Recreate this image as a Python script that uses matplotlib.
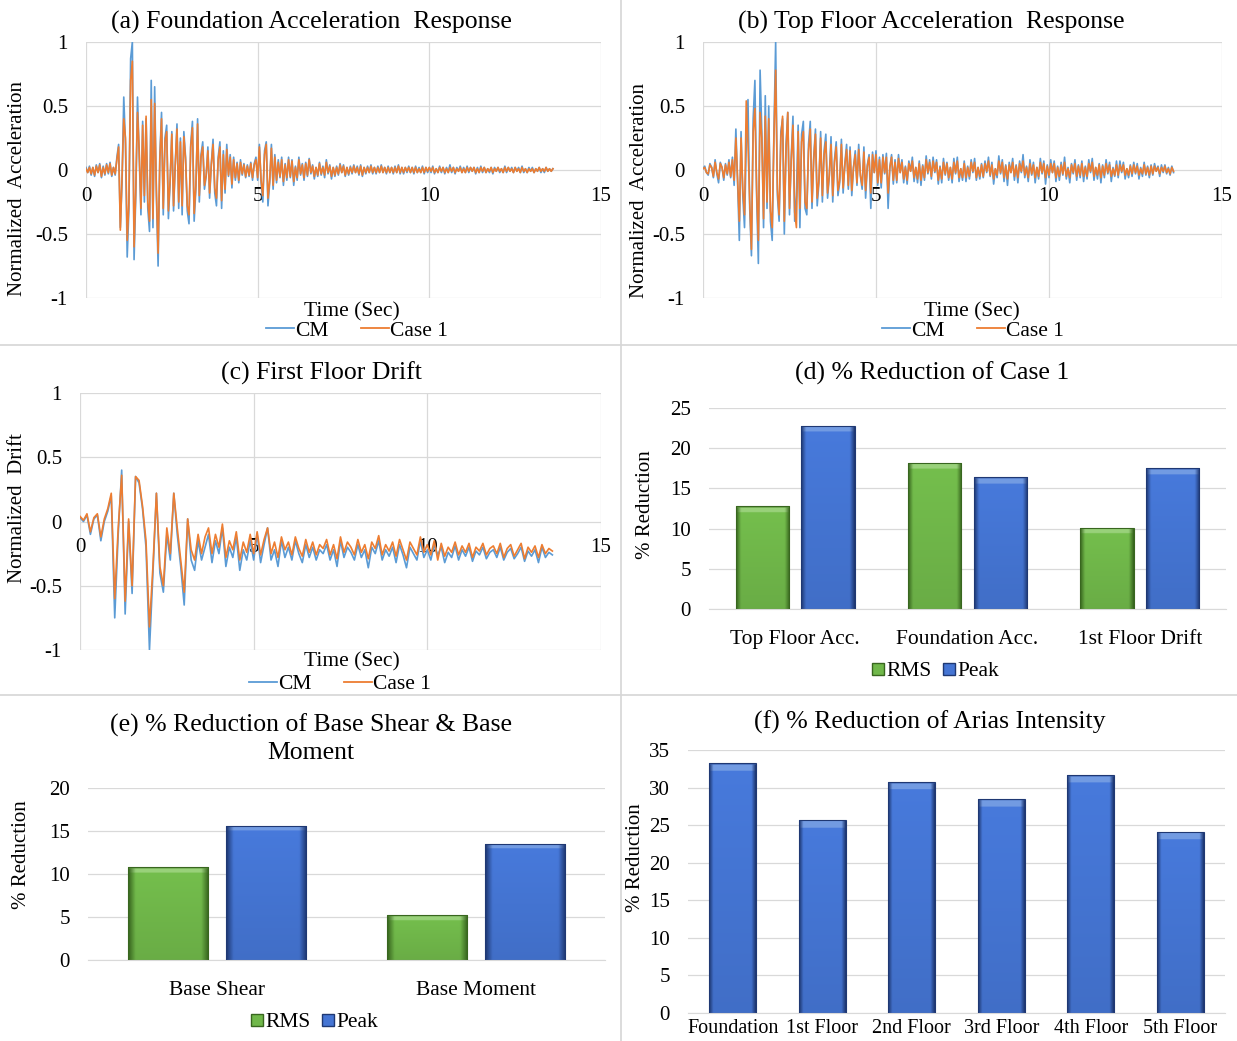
import numpy as np
import matplotlib.pyplot as plt
from matplotlib.lines import Line2D

plt.rcParams['font.family'] = ['Liberation Serif', 'DejaVu Serif']

# Data

DT_ACC = 0.05  # sample step of the acceleration histories (sec)
DT_DRIFT = 0.1  # sample step of the drift history (sec)

# (a) foundation acceleration, normalized (one row = one second)
foundCM = [
    0.02, -0.02, 0.03, -0.04, 0.02, -0.05, 0.04, -0.02, 0.05, -0.06, 0.03, -0.04, 0.05, -0.03, 0.06, -0.05, 0.02, -0.04, 0.10, 0.20,
    -0.45, -0.10, 0.57, 0.20, -0.68, -0.30, 0.87, 1.00, -0.70, -0.20, 0.57, 0.10, -0.35, 0.38, -0.25, 0.40, -0.30, -0.48, 0.70, -0.45,
    0.65, -0.20, -0.75, 0.10, 0.45, -0.35, 0.25, 0.35, -0.38, -0.10, 0.30, -0.32, 0.05, 0.36, -0.30, 0.25, -0.35, 0.30, 0.10, -0.32,
    -0.42, 0.20, 0.38, -0.40, -0.15, 0.40, -0.25, 0.12, 0.22, -0.15, -0.05, 0.18, -0.22, 0.05, 0.24, -0.18, -0.28, 0.10, 0.22, -0.30,
    0.15, -0.18, 0.20, -0.05, 0.12, -0.14, 0.10, -0.08, 0.06, -0.10, 0.08, -0.04, 0.05, -0.06, 0.04, -0.05, 0.06, -0.08, 0.05, 0.10,
    -0.08, 0.20, -0.10, -0.25, 0.15, 0.22, -0.28, -0.10, 0.20, -0.15, 0.12, -0.10, 0.08, -0.06, 0.10, -0.12, 0.05, -0.08, 0.10, -0.06,
    0.08, -0.12, 0.03, -0.08, 0.10, -0.04, 0.05, -0.08, 0.06, -0.05, 0.09, -0.03, 0.04, -0.07, 0.02, -0.05, 0.06, -0.04, 0.03, -0.06,
    0.08, -0.03, 0.04, -0.07, 0.02, -0.05, 0.03, -0.04, 0.05, -0.02, 0.04, -0.05, 0.02, -0.04, 0.03, -0.03, 0.04, -0.02, 0.03, -0.04,
    0.04, -0.05, 0.02, -0.03, 0.03, -0.02, 0.04, -0.03, 0.02, -0.03, 0.03, -0.02, 0.04, -0.02, 0.02, -0.03, 0.03, -0.02, 0.02, -0.03,
    0.03, -0.02, 0.04, -0.03, 0.02, -0.03, 0.02, -0.02, 0.03, -0.02, 0.02, -0.03, 0.03, -0.02, 0.02, -0.02, 0.03, -0.03, 0.02, -0.02,
    0.02, -0.02, 0.03, -0.03, 0.01, -0.02, 0.03, -0.02, 0.02, -0.03, 0.02, -0.02, 0.04, -0.02, 0.02, -0.03, 0.02, -0.01, 0.03, -0.02,
    0.02, -0.02, 0.03, -0.02, 0.02, -0.01, 0.02, -0.03, 0.02, -0.02, 0.03, -0.02, 0.02, -0.02, 0.01, -0.02, 0.02, -0.03, 0.02, -0.01,
    0.02, -0.02, 0.01, -0.02, 0.03, -0.02, 0.02, -0.01, 0.02, -0.02, 0.02, -0.01, 0.02, -0.02, 0.03, -0.02, 0.01, -0.02, 0.02, -0.01,
    0.02, -0.02, 0.01, -0.01, 0.02, -0.02, 0.01, -0.02, 0.02, -0.01, 0.01, -0.01, 0.01]
foundCase1 = [
    0.01, -0.02, 0.02, -0.03, 0.02, -0.04, 0.03, -0.02, 0.04, -0.05, 0.02, -0.03, 0.04, -0.02, 0.05, -0.04, 0.02, -0.03, 0.08, 0.18,
    -0.47, -0.05, 0.40, 0.25, -0.55, -0.25, 0.70, 0.85, -0.60, -0.15, 0.45, 0.15, -0.30, 0.35, -0.20, 0.42, -0.25, -0.40, 0.55, -0.38,
    0.52, -0.15, -0.65, 0.08, 0.40, -0.30, 0.22, 0.30, -0.32, -0.08, 0.28, -0.28, 0.04, 0.32, -0.25, 0.22, -0.28, 0.26, 0.08, -0.28,
    -0.35, 0.18, 0.33, -0.34, -0.12, 0.36, -0.20, 0.10, 0.18, -0.12, -0.04, 0.15, -0.18, 0.04, 0.20, -0.14, -0.22, 0.08, 0.18, -0.24,
    0.12, -0.15, 0.16, -0.04, 0.10, -0.11, 0.08, -0.06, 0.05, -0.08, 0.06, -0.03, 0.04, -0.05, 0.03, -0.04, 0.05, -0.06, 0.04, 0.08,
    -0.06, 0.18, -0.08, -0.20, 0.12, 0.20, -0.22, -0.08, 0.17, -0.12, 0.10, -0.08, 0.06, -0.05, 0.08, -0.09, 0.04, -0.06, 0.08, -0.05,
    0.07, -0.09, 0.02, -0.06, 0.08, -0.03, 0.04, -0.06, 0.05, -0.04, 0.08, -0.02, 0.03, -0.05, 0.02, -0.04, 0.05, -0.03, 0.02, -0.04,
    0.06, -0.02, 0.03, -0.05, 0.02, -0.04, 0.02, -0.03, 0.04, -0.02, 0.03, -0.04, 0.02, -0.03, 0.02, -0.02, 0.03, -0.02, 0.02, -0.03,
    0.03, -0.04, 0.02, -0.02, 0.02, -0.02, 0.03, -0.02, 0.02, -0.02, 0.02, -0.02, 0.03, -0.02, 0.02, -0.02, 0.02, -0.02, 0.02, -0.02,
    0.02, -0.02, 0.03, -0.02, 0.02, -0.02, 0.02, -0.01, 0.02, -0.02, 0.02, -0.02, 0.02, -0.02, 0.01, -0.02, 0.02, -0.02, 0.02, -0.01,
    0.02, -0.01, 0.02, -0.02, 0.01, -0.02, 0.02, -0.01, 0.02, -0.02, 0.01, -0.02, 0.02, -0.01, 0.02, -0.02, 0.01, -0.01, 0.02, -0.02,
    0.01, -0.02, 0.02, -0.01, 0.02, -0.01, 0.02, -0.02, 0.01, -0.02, 0.02, -0.01, 0.02, -0.02, 0.01, -0.01, 0.02, -0.02, 0.01, -0.01,
    0.02, -0.01, 0.01, -0.02, 0.02, -0.01, 0.02, -0.01, 0.01, -0.02, 0.02, -0.01, 0.01, -0.02, 0.02, -0.01, 0.01, -0.02, 0.01, -0.01,
    0.01, -0.02, 0.01, -0.01, 0.02, -0.01, 0.01, -0.01, 0.02, -0.01, 0.01, -0.01, 0.01]

# (b) top floor acceleration, normalized (one row = one second)
topCM = [
    0.01, 0.03, -0.02, -0.04, 0.05, 0.02, -0.06, 0.08, -0.03, -0.10, 0.06, 0.02, -0.08, 0.05, -0.04, 0.08, -0.06, 0.10, -0.12, 0.32,
    -0.10, -0.55, 0.30, -0.20, -0.45, 0.20, 0.55, -0.30, -0.67, 0.40, 0.70, -0.20, -0.73, 0.78, 0.30, -0.45, 0.58, -0.30, 0.50, -0.40,
    -0.55, 0.30, 1.00, -0.20, -0.40, 0.30, 0.40, -0.50, 0.20, 0.45, -0.35, 0.10, 0.42, -0.40, -0.20, 0.35, -0.45, 0.28, 0.38, -0.30,
    -0.35, 0.20, 0.38, -0.30, 0.10, 0.32, -0.28, -0.10, 0.30, -0.25, 0.15, 0.28, -0.22, -0.05, 0.26, -0.25, 0.08, 0.22, -0.20, -0.10,
    0.24, -0.18, 0.05, 0.20, -0.15, 0.18, -0.20, 0.02, 0.15, -0.12, 0.20, -0.05, -0.15, 0.18, -0.22, 0.04, 0.12, -0.30, 0.14, -0.02,
    0.15, -0.12, 0.10, -0.14, 0.12, -0.03, 0.13, -0.30, 0.02, 0.12, -0.11, 0.08, -0.10, 0.12, -0.02, 0.08, -0.10, 0.03, -0.11, 0.07,
    -0.01, 0.10, -0.09, 0.02, -0.10, 0.07, -0.12, 0.04, -0.08, 0.11, -0.03, 0.08, -0.07, 0.10, -0.02, 0.08, -0.11, 0.03, -0.10, 0.09,
    -0.04, 0.06, -0.08, 0.02, -0.10, 0.09, -0.03, 0.10, -0.09, 0.01, -0.08, 0.07, -0.09, 0.03, -0.07, 0.08, -0.02, 0.09, -0.08, 0.02,
    -0.07, 0.05, -0.06, 0.07, -0.02, 0.10, -0.05, 0.06, -0.11, 0.01, -0.06, 0.11, -0.03, 0.08, -0.09, 0.04, -0.12, 0.06, -0.02, 0.09,
    -0.08, 0.04, -0.10, 0.07, -0.02, 0.12, -0.06, 0.03, -0.09, 0.08, -0.04, 0.06, -0.10, 0.02, -0.07, 0.09, -0.03, 0.07, -0.11, 0.04,
    -0.06, 0.08, -0.02, 0.07, -0.09, 0.03, -0.08, 0.06, -0.04, 0.10, -0.07, 0.02, -0.10, 0.05, -0.03, 0.08, -0.08, 0.04, -0.06, 0.07,
    -0.09, 0.03, -0.07, 0.08, -0.02, 0.09, -0.08, 0.02, -0.07, 0.05, -0.10, 0.04, -0.06, 0.08, -0.03, 0.06, -0.09, 0.02, -0.05, 0.07,
    -0.06, 0.07, -0.02, 0.06, -0.07, 0.01, -0.06, 0.04, -0.05, 0.06, -0.03, 0.05, -0.07, 0.02, -0.05, 0.06, -0.04, 0.03, -0.06, 0.04,
    -0.04, 0.05, -0.01, 0.03, -0.05, 0.04, -0.02, 0.04, -0.03, 0.02, -0.04, 0.03, -0.02]
topCase1 = [
    0.01, 0.02, -0.02, -0.03, 0.04, 0.02, -0.05, 0.06, -0.02, -0.07, 0.05, 0.02, -0.06, 0.04, -0.03, 0.06, -0.05, 0.08, -0.08, 0.25,
    -0.08, -0.40, 0.25, -0.15, -0.35, 0.54, 0.20, -0.25, -0.62, 0.30, 0.48, -0.15, -0.55, 0.45, 0.25, -0.38, 0.42, -0.25, 0.40, -0.32,
    -0.45, 0.25, 0.78, -0.15, -0.35, 0.25, 0.42, -0.40, 0.15, 0.45, -0.30, 0.08, 0.35, -0.33, -0.45, 0.30, -0.30, 0.22, 0.30, -0.25,
    -0.30, 0.15, 0.32, -0.25, 0.08, 0.28, -0.22, -0.08, 0.25, -0.20, 0.12, 0.22, -0.18, -0.04, 0.20, -0.20, 0.06, 0.18, -0.16, -0.08,
    0.20, -0.14, 0.04, 0.16, -0.12, 0.15, -0.16, 0.02, 0.12, -0.10, 0.16, -0.04, -0.12, 0.14, -0.16, 0.03, 0.10, -0.18, 0.12, -0.02,
    0.12, -0.10, 0.08, -0.10, 0.10, -0.02, 0.10, -0.18, 0.02, 0.10, -0.08, 0.06, -0.08, 0.09, -0.02, 0.06, -0.07, 0.02, -0.08, 0.05,
    -0.01, 0.07, -0.06, 0.02, -0.07, 0.05, -0.08, 0.03, -0.06, 0.08, -0.02, 0.06, -0.05, 0.07, -0.01, 0.06, -0.08, 0.02, -0.07, 0.06,
    -0.03, 0.05, -0.06, 0.02, -0.07, 0.06, -0.02, 0.07, -0.06, 0.01, -0.06, 0.05, -0.06, 0.02, -0.05, 0.06, -0.01, 0.06, -0.06, 0.02,
    -0.05, 0.04, -0.05, 0.05, -0.01, 0.07, -0.04, 0.04, -0.07, 0.01, -0.04, 0.07, -0.02, 0.06, -0.06, 0.03, -0.07, 0.04, -0.02, 0.06,
    -0.05, 0.03, -0.06, 0.05, -0.01, 0.07, -0.04, 0.02, -0.06, 0.05, -0.03, 0.04, -0.06, 0.02, -0.05, 0.06, -0.02, 0.05, -0.06, 0.03,
    -0.04, 0.05, -0.02, 0.05, -0.06, 0.02, -0.05, 0.04, -0.03, 0.06, -0.05, 0.01, -0.06, 0.04, -0.02, 0.05, -0.05, 0.03, -0.04, 0.05,
    -0.05, 0.02, -0.05, 0.05, -0.01, 0.06, -0.05, 0.02, -0.04, 0.04, -0.06, 0.03, -0.04, 0.05, -0.02, 0.04, -0.05, 0.01, -0.04, 0.04,
    -0.04, 0.04, -0.01, 0.04, -0.04, 0.01, -0.04, 0.03, -0.03, 0.04, -0.02, 0.03, -0.04, 0.01, -0.03, 0.04, -0.03, 0.02, -0.04, 0.03,
    -0.03, 0.03, -0.01, 0.02, -0.03, 0.02, -0.01, 0.03, -0.02, 0.01, -0.03, 0.02, -0.01]

# (c) first floor drift, normalized (one row = one second)
driftCM = [
    0.03, 0.00, 0.05, -0.10, 0.02, 0.05, -0.15, 0.00, 0.08, 0.20,
    -0.75, -0.10, 0.40, -0.72, 0.00, -0.56, 0.35, 0.30, 0.10, -0.20,
    -1.00, -0.40, 0.22, -0.40, -0.55, -0.10, -0.30, 0.22, -0.10, -0.35,
    -0.65, 0.02, -0.30, -0.38, -0.15, -0.30, -0.20, -0.10, -0.32, -0.15,
    -0.25, -0.05, -0.35, -0.20, -0.28, -0.12, -0.38, -0.22, -0.30, -0.15,
    -0.30, -0.10, -0.32, -0.18, -0.05, -0.30, -0.22, -0.35, -0.15, -0.28,
    -0.20, -0.30, -0.15, -0.25, -0.32, -0.18, -0.28, -0.20, -0.30, -0.22,
    -0.25, -0.18, -0.30, -0.22, -0.35, -0.15, -0.28, -0.20, -0.24, -0.30,
    -0.18, -0.28, -0.22, -0.36, -0.20, -0.25, -0.15, -0.30, -0.22, -0.27,
    -0.20, -0.32, -0.18, -0.26, -0.36, -0.20, -0.25, -0.30, -0.15, -0.28,
    -0.22, -0.30, -0.18, -0.26, -0.20, -0.32, -0.24, -0.28, -0.19, -0.30,
    -0.22, -0.27, -0.20, -0.31, -0.23, -0.26, -0.20, -0.29, -0.24, -0.22,
    -0.28, -0.20, -0.30, -0.24, -0.21, -0.29, -0.25, -0.20, -0.31, -0.23,
    -0.27, -0.22, -0.32, -0.20, -0.28, -0.24, -0.26]
driftCase1 = [
    0.04, 0.01, 0.06, -0.08, 0.03, 0.06, -0.12, 0.02, 0.10, 0.22,
    -0.60, -0.05, 0.36, -0.62, 0.02, -0.50, 0.35, 0.32, 0.12, -0.15,
    -0.82, -0.35, 0.22, -0.35, -0.50, -0.05, -0.25, 0.22, -0.05, -0.30,
    -0.55, 0.02, -0.22, -0.30, -0.10, -0.25, -0.12, -0.05, -0.25, -0.10,
    -0.20, -0.02, -0.28, -0.15, -0.22, -0.08, -0.30, -0.16, -0.24, -0.10,
    -0.25, -0.08, -0.26, -0.14, -0.05, -0.25, -0.16, -0.28, -0.12, -0.22,
    -0.16, -0.26, -0.12, -0.21, -0.27, -0.14, -0.24, -0.16, -0.26, -0.18,
    -0.21, -0.14, -0.26, -0.18, -0.29, -0.12, -0.24, -0.16, -0.20, -0.26,
    -0.14, -0.24, -0.18, -0.29, -0.16, -0.21, -0.11, -0.26, -0.18, -0.23,
    -0.16, -0.27, -0.14, -0.22, -0.30, -0.16, -0.21, -0.26, -0.12, -0.24,
    -0.18, -0.26, -0.15, -0.30, -0.17, -0.27, -0.20, -0.24, -0.16, -0.26,
    -0.19, -0.24, -0.17, -0.28, -0.20, -0.23, -0.17, -0.26, -0.21, -0.19,
    -0.25, -0.17, -0.28, -0.21, -0.18, -0.27, -0.22, -0.17, -0.29, -0.20,
    -0.24, -0.19, -0.28, -0.18, -0.25, -0.21, -0.23]

# (d) % reduction of case 1
caseCats = ["Top Floor Acc.", "Foundation Acc.", "1st Floor Drift"]
caseRMS = [12.8, 18.2, 10.1]
casePeak = [22.8, 16.4, 17.5]

# (e) % reduction of base shear & base moment
baseCats = ["Base Shear", "Base Moment"]
baseRMS = [10.8, 5.2]
basePeak = [15.6, 13.5]

# (f) % reduction of Arias intensity
ariasCats = ["Foundation", "1st Floor", "2nd Floor", "3rd Floor", "4th Floor", "5th Floor"]
ariasVals = [33.3, 25.7, 30.8, 28.5, 31.7, 24.1]

# Styling

W, H = 1237, 1041
BLUE_LINE = "#5B9BD5"
ORANGE_LINE = "#ED7D31"
GRID = "#d9d9d9"
GREEN = (np.array([0.44, 0.72, 0.29]), np.array([0.22, 0.40, 0.12]), np.array([0.60, 0.82, 0.48]))
BLUE = (np.array([0.27, 0.46, 0.83]), np.array([0.12, 0.22, 0.45]), np.array([0.45, 0.61, 0.89]))

titleSize = 18.5
labelSize = 15
tickSize = 15
catSize = 15.5


def fx(px):
    return px / W


def fy(py):
    return 1 - py / H


def addAxes(left, top, right, bottom):
    return fig.add_axes([fx(left), fy(bottom), (right - left) / W, (bottom - top) / H])


def linePanel(box, dt, cm, case1, title, titleXY, ylabel, ylabelXY, xlabelXY, legendXY):
    ax = addAxes(*box)
    ax.plot(np.arange(len(cm)) * dt, cm, color = BLUE_LINE, lw = 1.2, zorder = 3)
    ax.plot(np.arange(len(case1)) * dt, case1, color = ORANGE_LINE, lw = 1.2, zorder = 4)
    ax.set_xlim(0, 15)
    ax.set_ylim(-1, 1)
    ax.set_xticks([0, 5, 10, 15])
    ax.set_yticks([-1, -0.5, 0, 0.5, 1])
    ax.set_yticklabels(["-1", "-0.5", "0", "0.5", "1"])
    ax.grid(True, color = GRID, lw = 0.9)
    for s in ax.spines.values():
        s.set_visible(False)
    ax.spines['bottom'].set_position(('data', 0))
    ax.tick_params(axis = 'x', length = 0, pad = 12, labelsize = tickSize)
    ax.tick_params(axis = 'y', length = 0, pad = 13, labelsize = tickSize)
    fig.text(fx(titleXY[0]), fy(titleXY[1]), title, ha = "center", va = "center", fontsize = titleSize)
    fig.text(fx(ylabelXY[0]), fy(ylabelXY[1]), ylabel, ha = "center", va = "center", rotation = 90, fontsize = labelSize)
    fig.text(fx(xlabelXY[0]), fy(xlabelXY[1]), "Time (Sec)", ha = "center", va = "center", fontsize = catSize)
    handles = [Line2D([], [], color = BLUE_LINE, lw = 1.3), Line2D([], [], color = ORANGE_LINE, lw = 1.3)]
    fig.legend(handles, ["CM", "Case 1"], loc = "center", bbox_to_anchor = (fx(legendXY[0]), fy(legendXY[1])),
               ncol = 2, frameon = False, fontsize = catSize, handlelength = 1.3, handletextpad = 0.05,
               columnspacing = 1.5, borderaxespad = 0, borderpad = 0)
    return ax


def bevelBars(ax, bars, colors, ymax):
    base, dark, light = colors
    nx, ny = 60, 200
    u = np.linspace(0, 1, nx)
    side = np.clip(np.minimum(u, 1 - u) / 0.09, 0, 1)
    band = 0.03 * ymax
    for p in bars:
        x0, w, h = p.get_x(), p.get_width(), p.get_height()
        yy = np.linspace(h, 0, ny)
        depth = h - yy
        shade = (1.04 - 0.10 * (depth / max(h, 1e-6)))[:, None, None]
        img = dark + (base * shade - dark) * side[None, :, None]
        top = (depth < band)[:, None, None]
        img = np.where(top, dark + (light - dark) * side[None, :, None], img)
        edge = (depth < band * 0.2)[:, None, None]
        img = np.where(edge, dark + (base - dark) * 0.6, img)
        img = np.clip(img, 0, 1)
        im = ax.imshow(img, extent = (x0, x0 + w, 0, h), aspect = "auto", zorder = 2, interpolation = "bilinear")
        im.set_clip_path(p)
        p.set_facecolor("none")
        p.set_edgecolor(dark)
        p.set_linewidth(0.8)
        p.set_zorder(3)


def barAxesStyle(ax, ymax, step, ncat):
    ax.set_xlim(-0.5, ncat - 0.5)
    ax.set_ylim(0, ymax)
    ax.set_yticks(np.arange(0, ymax + 0.1, step))
    ax.yaxis.grid(True, color = GRID, lw = 0.9)
    ax.set_axisbelow(True)
    for s in ["top", "right", "left"]:
        ax.spines[s].set_visible(False)
    ax.spines["bottom"].set_color(GRID)
    ax.tick_params(axis = 'y', length = 0, pad = 13, labelsize = tickSize)


def barLegend(xy):
    handles = [Line2D([], [], marker = "s", ls = "", markersize = 8.5, markerfacecolor = GREEN[0], markeredgecolor = GREEN[1]),
               Line2D([], [], marker = "s", ls = "", markersize = 8.5, markerfacecolor = BLUE[0], markeredgecolor = BLUE[1])]
    fig.legend(handles, ["RMS", "Peak"], loc = "center", bbox_to_anchor = (fx(xy[0]), fy(xy[1])), ncol = 2,
               frameon = False, fontsize = catSize, handlelength = 0.6, handletextpad = 0.1,
               columnspacing = 0.5, borderaxespad = 0, borderpad = 0)


fig = plt.figure(figsize = (W / 100, H / 100), dpi = 100)

# panel separators
fig.add_artist(Line2D([fx(621), fx(621)], [0, 1], color = "#d6d6d6", lw = 1.2))
fig.add_artist(Line2D([0, 1], [fy(345), fy(345)], color = "#d6d6d6", lw = 1.2))
fig.add_artist(Line2D([0, 1], [fy(695), fy(695)], color = "#d6d6d6", lw = 1.2))

# (a), (b), (c) time histories
linePanel((86, 42, 601, 298), DT_ACC, foundCM, foundCase1, "(a) Foundation Acceleration  Response", (311, 22),
          "Normalized  Acceleration", (18, 188), (352, 312), (357, 331))
linePanel((703, 42, 1222, 298), DT_ACC, topCM, topCase1, "(b) Top Floor Acceleration  Response", (931, 22),
          "Normalized  Acceleration", (640, 190), (972, 312), (973, 331))
linePanel((80, 393, 601, 650), DT_DRIFT, driftCM, driftCase1, "(c) First Floor Drift", (321, 373),
          "Normalized  Drift", (18, 508), (352, 662), (340, 684))

# (d) case 1 reduction
ax = addAxes(709, 408, 1226, 609)
x = np.arange(len(caseCats))
b1 = ax.bar(x - 0.19, caseRMS, 0.31)
b2 = ax.bar(x + 0.19, casePeak, 0.31)
bevelBars(ax, b1, GREEN, 25)
bevelBars(ax, b2, BLUE, 25)
barAxesStyle(ax, 25, 5, len(caseCats))
ax.set_xticks(x)
ax.set_xticklabels(caseCats)
ax.tick_params(axis = 'x', length = 0, pad = 15, labelsize = catSize)
fig.text(fx(932), fy(373), "(d) % Reduction of Case 1", ha = "center", va = "center", fontsize = titleSize)
fig.text(fx(645), fy(505), "% Reduction", ha = "center", va = "center", rotation = 90, fontsize = labelSize)
barLegend((935, 671))

# (e) base shear & moment reduction
ax = addAxes(88, 788, 605, 960)
x = np.arange(len(baseCats))
b1 = ax.bar(x - 0.19, baseRMS, 0.31)
b2 = ax.bar(x + 0.19, basePeak, 0.31)
bevelBars(ax, b1, GREEN, 20)
bevelBars(ax, b2, BLUE, 20)
barAxesStyle(ax, 20, 5, len(baseCats))
ax.set_xticks(x)
ax.set_xticklabels(baseCats)
ax.tick_params(axis = 'x', length = 0, pad = 15, labelsize = catSize)
fig.text(fx(311), fy(739), "(e) % Reduction of Base Shear & Base\nMoment", ha = "center", va = "center",
         fontsize = titleSize, linespacing = 1.3)
fig.text(fx(22), fy(855), "% Reduction", ha = "center", va = "center", rotation = 90, fontsize = labelSize)
barLegend((314, 1022))

# (f) Arias intensity reduction
ax = addAxes(688, 750, 1225, 1013)
x = np.arange(len(ariasCats))
b1 = ax.bar(x, ariasVals, 0.52)
bevelBars(ax, b1, BLUE, 35)
barAxesStyle(ax, 35, 5, len(ariasCats))
ax.set_xticks(x)
ax.set_xticklabels(ariasCats)
ax.tick_params(axis = 'x', length = 0, pad = 4, labelsize = 14.5)
fig.text(fx(930), fy(722), "(f) % Reduction of Arias Intensity", ha = "center", va = "center", fontsize = titleSize)
fig.text(fx(636), fy(858), "% Reduction", ha = "center", va = "center", rotation = 90, fontsize = labelSize)

fig.savefig("out.png", dpi = 100)
plt.close()
